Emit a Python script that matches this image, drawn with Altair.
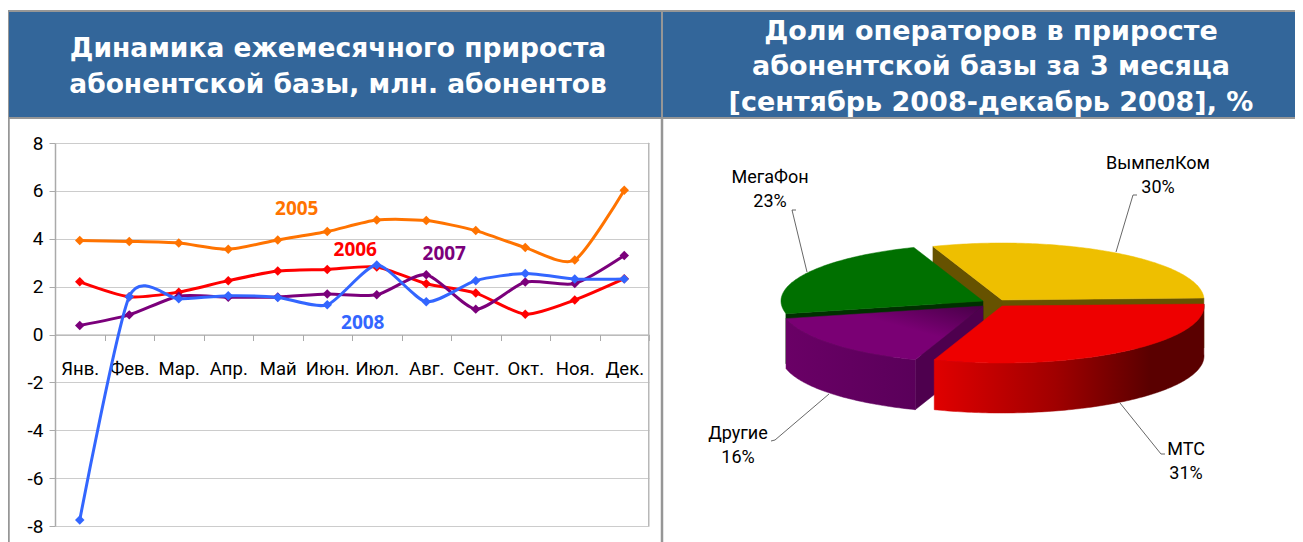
import math
import altair as alt

months = ["Янв.", "Фев.", "Мар.", "Апр.", "Май", "Июн.", "Июл.", "Авг.", "Сент.", "Окт.", "Ноя.", "Дек."]
y2005 = [3.93, 3.89, 3.82, 3.56, 3.95, 4.30, 4.78, 4.76, 4.34, 3.63, 3.11, 6.03]
y2006 = [2.20, 1.58, 1.77, 2.25, 2.65, 2.72, 2.82, 2.12, 1.73, 0.85, 1.44, 2.33]
y2007 = [0.38, 0.82, 1.60, 1.56, 1.57, 1.69, 1.66, 2.50, 1.06, 2.19, 2.13, 3.30]
y2008 = [-7.75, 1.58, 1.49, 1.62, 1.55, 1.24, 2.90, 1.37, 2.25, 2.55, 2.32, 2.32]
series_names = ["2005", "2006", "2007", "2008"]
series_colors = ["#ff7300", "#ff0000", "#7b007b", "#3366ff"]
label_months = ["Май", "Июн.", "Авг.", "Июл."]
label_values = [5.25, 3.54, 3.37, 0.50]
label_dx = [19, 28, 18, -14]

pie_names = ["МТС", "Другие", "МегаФон", "ВымпелКом"]
pie_shares = [31, 16, 23, 30]

title_left = ["Динамика ежемесячного прироста", "абонентской базы, млн. абонентов"]
title_right = ["Доли операторов в приросте", "абонентской базы за 3 месяца", "[сентябрь 2008-декабрь 2008], %"]

W, H = 1287, 534
OX, OY = 8, 8
FONT = "DejaVu Sans"
LABEL_FONT = "Roboto"

x_scale = alt.Scale(domain=months, type="band", paddingInner=0, paddingOuter=0, range=[55 - OX, 649 - OX])
y_scale = alt.Scale(domain=[-8, 8], range=[526 - OY, 143 - OY], nice=False, zero=False)


def vx(v):
    return alt.value(v - OX)


def vy(v):
    return alt.value(v - OY)


def rect(x0, y0, x1, y1, fill, stroke=None, sw=0):
    kw = {"fill": fill}
    if stroke:
        kw.update(stroke=stroke, strokeWidth=sw)
    return alt.Chart(alt.Data(values=[{"k": 0}])).mark_rect(**kw).encode(
        x=vx(x0), x2=vx(x1), y=vy(y0), y2=vy(y1))


def text(s, x, y, size, color="black", weight="normal", font=LABEL_FONT):
    return alt.Chart(alt.Data(values=[{"t": s}])).mark_text(
        font=font, fontSize=size, fontWeight=weight, color=color, align="center", baseline="middle"
    ).encode(text="t:N", x=vx(x), y=vy(y))


def poly(points, fill, stroke=None):
    ring = [[px - OX, py - OY] for px, py in points]
    ring.append(ring[0])
    feat = {"type": "Feature", "properties": {}, "geometry": {"type": "Polygon", "coordinates": [ring]}}
    return alt.Chart(alt.Data(values=[feat])).mark_geoshape(
        fill=fill, stroke=stroke if stroke else fill, strokeWidth=0.5
    ).project(type="identity", scale=1, translate=[0, 0])


def polyline(points, color="#404040"):
    coords = [[px - OX, py - OY] for px, py in points]
    feat = {"type": "Feature", "properties": {}, "geometry": {"type": "LineString", "coordinates": coords}}
    return alt.Chart(alt.Data(values=[feat])).mark_geoshape(
        filled=False, stroke=color, strokeWidth=0.8
    ).project(type="identity", scale=1, translate=[0, 0])


RX, RY, DEPTH = 202, 57, 50


def arc_pts(c, a0, a1, dy=0):
    n = max(2, int(abs(a1 - a0)) + 1)
    out = []
    for i in range(n + 1):
        t = math.radians(a0 + (a1 - a0) * i / n)
        out.append((c[0] + RX * math.cos(t), c[1] + RY * math.sin(t) + dy))
    return out


def lin(stops, x1=0, y1=0, x2=1, y2=0):
    return {"gradient": "linear", "x1": x1, "y1": y1, "x2": x2, "y2": y2,
            "stops": [{"offset": o, "color": c} for o, c in stops]}


ang = [-2]
for s in pie_shares:
    ang.append(ang[-1] + s * 3.6)
c_red, c_pur, c_grn, c_yel = (1002, 306), (983, 306), (983, 301), (1002, 300)


def wall(c, a):
    t = math.radians(a)
    e = (c[0] + RX * math.cos(t), c[1] + RY * math.sin(t))
    return [c, e, (e[0], e[1] + DEPTH), (c[0], c[1] + DEPTH)]


pie_layers = [
    poly(wall(c_yel, ang[3]), "#665200"),
    poly(wall(c_yel, ang[4]), "#665200"),
    poly([c_yel] + arc_pts(c_yel, ang[3], ang[4]), "#eebf00"),
    poly(arc_pts(c_grn, ang[2] - 30, ang[2]) + arc_pts(c_grn, ang[2], ang[2] - 30, DEPTH), "#006000"),
    poly(wall(c_grn, ang[2]), "#003000"),
    poly([c_grn] + arc_pts(c_grn, ang[2], ang[3]), "#007000"),
    poly(wall(c_pur, ang[1]), "#4e004e"),
    poly(arc_pts(c_pur, ang[1], ang[2]) + arc_pts(c_pur, ang[2], ang[1], DEPTH),
         lin([(0, "#6a0066"), (1, "#5a005a")])),
    poly([c_pur] + arc_pts(c_pur, ang[1], ang[2]),
         lin([(0, "#7a0074"), (0.6, "#7a0074"), (1, "#470047")], 0, 1, 1, 0)),
    poly(arc_pts(c_red, ang[0], ang[1]) + arc_pts(c_red, ang[1], ang[0], DEPTH),
         lin([(0, "#e00000"), (0.45, "#a00000"), (0.8, "#5a0000"), (1, "#5a0000")])),
    poly([c_red] + arc_pts(c_red, ang[0], ang[1]), "#ee0000"),
]

leaders = [
    polyline([(796, 210), (792, 210), (807, 272)]),
    polyline([(1137, 195), (1133, 195), (1116, 252)]),
    polyline([(771, 441), (775, 440), (829, 394)]),
    polyline([(1120, 403), (1161, 454), (1165, 454)]),
]

pie_text = [
    text("ВымпелКом", 1158, 164, 18), text(f"{pie_shares[3]}%", 1158, 188, 18),
    text("МегаФон", 770, 178, 18), text(f"{pie_shares[2]}%", 770, 202, 18),
    text("Другие", 738, 434, 18), text(f"{pie_shares[1]}%", 738, 458, 18),
    text("МТС", 1186, 450, 18), text(f"{pie_shares[0]}%", 1186, 474, 18),
]

frame = [
    rect(8, 11, 662, 118, "#33669a", "#969696", 2),
    rect(662, 11, 1320, 118, "#33669a", "#969696", 2),
    rect(8, 118, 9, 542, "#969696", "#969696", 1.5),
    rect(661.5, 118, 662.5, 542, "#969696", "#969696", 1.5),
    rect(648.5, 143, 649, 526, "#b8b8b8", "#b8b8b8", 1),
]
headers = [text(s, 338, yy, 26.5, "white", "bold", FONT) for s, yy in zip(title_left, [49, 85])]
headers += [text(s, 991, yy, 27, "white", "bold", FONT) for s, yy in zip(title_right, [32, 67, 103])]

rows = []
for name, vals in zip(series_names, [y2005, y2006, y2007, y2008]):
    rows += [{"month": m, "value": v, "series": name} for m, v in zip(months, vals)]

axes = alt.Chart(alt.Data(values=rows)).mark_point(opacity=0).encode(
    x=alt.X("month:N", sort=months, scale=x_scale, title=None,
            axis=alt.Axis(orient="bottom", offset=(334.5 - OY) - H, labelAngle=0, tickBand="extent",
                          labelPadding=19, tickSize=6, domainColor="#aaaaaa", tickColor="#aaaaaa",
                          labelFont=LABEL_FONT, labelFontSize=18.5, labelColor="black", grid=False, labelOverlap=False)),
    y=alt.Y("value:Q", scale=y_scale, title=None,
            axis=alt.Axis(orient="left", offset=-(55 - OX), values=[-8, -6, -4, -2, 0, 2, 4, 6, 8], grid=True,
                          gridColor="#cccccc", domainColor="#aaaaaa", domainWidth=1.5,
                          tickColor="#aaaaaa", tickSize=6, labelPadding=6, labelFont=LABEL_FONT, labelFontSize=19,
                          labelColor="black", labelExpr="toString(datum.value)", labelFlush=False, labelOverlap=False)),
)

line_layers = []
for name, col in zip(series_names, series_colors):
    d = [r for r in rows if r["series"] == name]
    base = alt.Chart(alt.Data(values=d)).encode(
        x=alt.X("month:N", sort=months, scale=x_scale), y=alt.Y("value:Q", scale=y_scale))
    line_layers.append(base.mark_line(color=col, strokeWidth=3, interpolate="cardinal", tension=0.3))
    line_layers.append(base.mark_point(shape="diamond", filled=True, color=col, size=90, opacity=1))

label_layers = []
for name, col, m, v, dx in zip(series_names, series_colors, label_months, label_values, label_dx):
    label_layers.append(
        alt.Chart(alt.Data(values=[{"month": m, "value": v, "t": name}])).mark_text(
            font="Open Sans", fontSize=19, fontWeight="bold", color=col, dx=dx, align="center", baseline="middle"
        ).encode(x=alt.X("month:N", sort=months, scale=x_scale), y=alt.Y("value:Q", scale=y_scale), text="t:N"))

chart = alt.layer(*frame, *headers, axes, *line_layers, *label_layers, *pie_layers, *leaders, *pie_text).properties(
    width=W, height=H, padding=0, autosize=alt.AutoSizeParams(type="none"), background="white"
).configure_view(stroke=None)

chart.save("out.html", embed_options={"renderer": "svg", "actions": False})
